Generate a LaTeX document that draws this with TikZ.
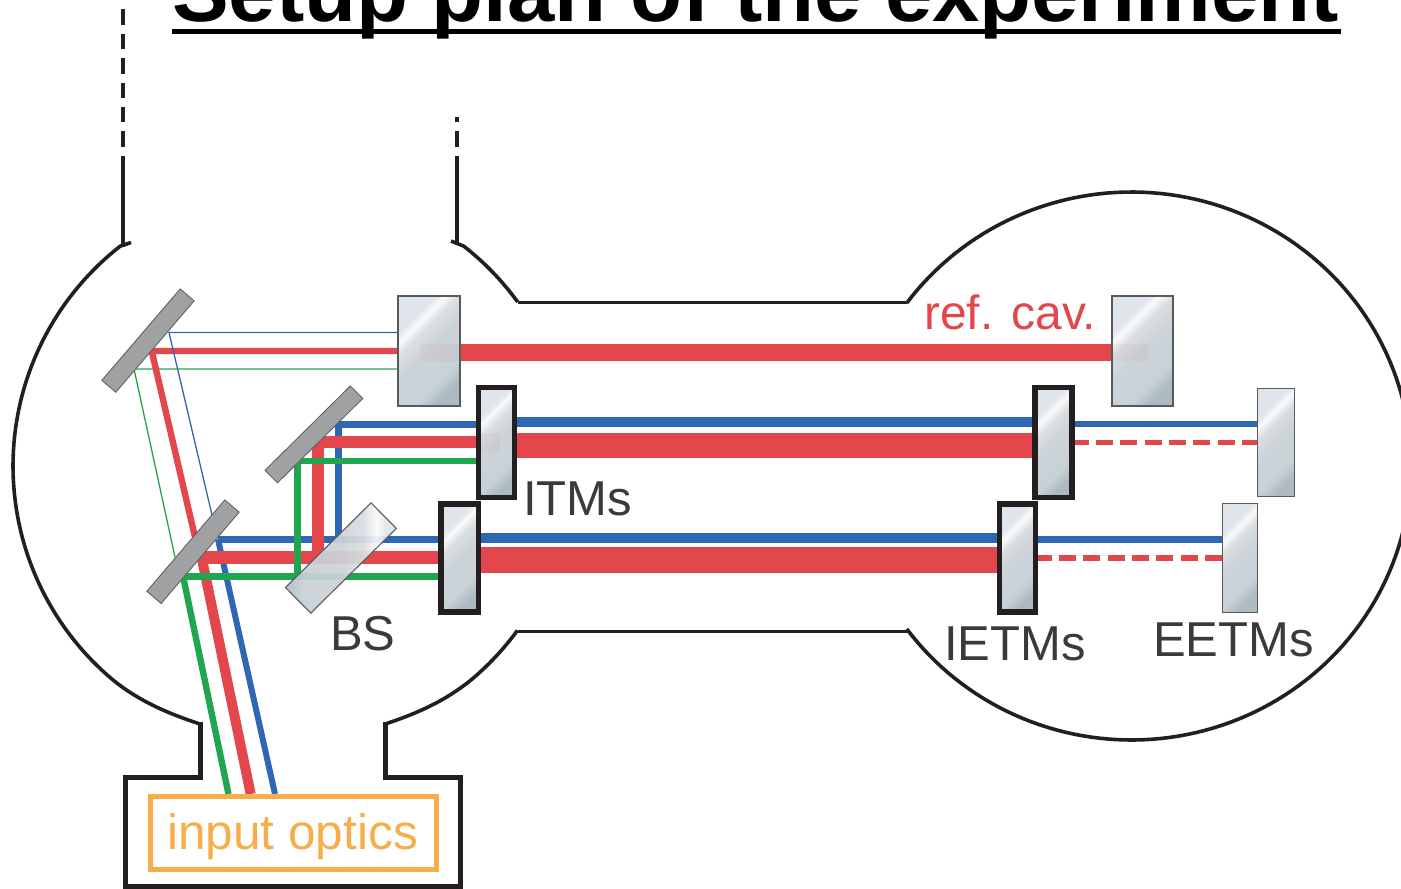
\documentclass[tikz,border=0pt]{standalone}
\usepackage{fontspec}
\setmainfont{Liberation Sans}
\definecolor{cred}{HTML}{E3474B}
\definecolor{cblue}{HTML}{2E67B4}
\definecolor{cgreen}{HTML}{21A650}
\definecolor{cblack}{HTML}{231F20}
\definecolor{corange}{HTML}{F6AE4B}
\definecolor{clabel}{HTML}{3A3A3C}
\definecolor{cmirror}{HTML}{A0A1A3}
\definecolor{cedge}{HTML}{58595B}
\pgfdeclareverticalshading{glass}{100bp}{
 rgb(0bp)=(.68,.73,.76);
 rgb(25bp)=(.68,.73,.76);
 rgb(33bp)=(.78,.82,.84);
 rgb(50bp)=(.80,.83,.85);
 rgb(60bp)=(.85,.87,.88);
 rgb(66bp)=(.98,.98,.98);
 rgb(70bp)=(.88,.90,.92);
 rgb(100bp)=(.88,.90,.92)}
\tikzset{
 glassbox/.style={draw=cedge,line width=1.6pt,shading=glass,shading angle=45,inner sep=0pt,outer sep=0pt},
 itmbox/.style={glassbox,draw=cblack,line width=5.2pt},
 steer/.style={draw=cedge,line width=.8pt,fill=cmirror,inner sep=0pt,outer sep=0pt},
 wall/.style={draw=cblack,line width=3.6pt,line join=round},
 wallthick/.style={draw=cblack,line width=5pt,line join=miter},
 wallfade/.style={draw=cblack,line width=3.8pt,dash pattern=on 15.3pt off 9.1pt},
 redb/.style={draw=cred,line join=miter},
 blueb/.style={draw=cblue,line join=miter},
 greenb/.style={draw=cgreen,line join=miter},
 ghost/.style={draw=none,fill=cred!60!gray,opacity=.07},
 lab/.style={text=clabel,font=\fontsize{49}{50}\selectfont,inner sep=0pt,anchor=base west},
}
\begin{document}
\begin{tikzpicture}[x=1pt,y=-1pt]
\useasboundingbox (0,0) rectangle (1401,889);
% title
\node[inner sep=0pt,anchor=base west,font=\fontsize{85}{90}\selectfont\bfseries] (title) at (172,21) {Setup plan of the experiment};
\coordinate (ulL) at (172,31.5);
\coordinate (ulR) at (1340.5,31.5);
\draw[line width=5pt,black] (ulL) -- (ulR);
% chamber
\draw[wall] (131,242.5) -- plot[domain=232:130,samples=70,variable=\t] ({292+279*cos(\t)},{466+279*sin(\t)}) .. controls (140,702) and (170,714) .. (198.5,723.5);
\draw[wall] (386.7,723.5) .. controls (415,714) and (444,702) .. (471.3,679.7) -- plot[domain=50:36.1,samples=20,variable=\t] ({292+279*cos(\t)},{466+279*sin(\t)});
\draw[wall] plot[domain=-36:-52,samples=20,variable=\t] ({292+279*cos(\t)},{466+279*sin(\t)}) -- (451,241);
\draw[wall] plot[domain=-143.5:143.5,samples=160,variable=\t] ({1131.5+279.6*cos(\t)},{466+274*sin(\t)});
\draw[wall] (518,302.5) -- (906.7,302.5);
\draw[wall] (518,631.5) -- (906.7,631.5);
\draw[wall,line width=3.8pt] (122.7,155.7) -- (122.7,247);
\draw[wall,line width=3.8pt] (457,155.7) -- (457,243);
\draw[wallfade] (122.7,146.7) -- (122.7,9.3);
\draw[wallfade] (457,146.7) -- (457,117);
\draw[wallthick] (200.5,721.5) -- (200.5,777) -- (125.5,777) -- (125.5,886.5) -- (460,886.5) -- (460,777) -- (385,777) -- (385,721.5);
% coordinates of the beams
\coordinate (gA) at (134,369);   \coordinate (gB) at (175,557);
\coordinate (rA) at (151.7,351); \coordinate (rB) at (195,537);
\coordinate (bA) at (169,332.5); \coordinate (bB) at (212,515);
\coordinate (gC) at (183,576);   \coordinate (gD) at (228.5,794);
\coordinate (rC) at (201.7,557.7); \coordinate (rD) at (250.7,794);
\coordinate (bC) at (218,539.3); \coordinate (bD) at (275,794);
% beams
\draw[greenb,line width=1.3pt] (gB) -- (gA) -- (398,369);
\draw[redb,line width=6.4pt] (rB) -- (rA) -- (398,351);
\draw[blueb,line width=1.3pt] (bB) -- (bA) -- (398,332.5);
\draw[greenb,line width=6.4pt] (gC) -- (gD);
\draw[redb,line width=10pt] (rC) -- (rD);
\draw[blueb,line width=6pt] (bC) -- (bD);
\draw[blueb,line width=7pt] (218,539.3) -- (441,539.3);
\draw[redb,line width=12.5pt] (198,557.7) -- (441,557.7);
\draw[greenb,line width=7pt] (180,576) -- (441,576);
\draw[blueb,line width=7pt] (338,539.3) -- (338,424) -- (478,424);
\draw[redb,line width=12.5pt] (318,557.7) -- (318,442) -- (478,442);
\draw[greenb,line width=6.4pt] (297.3,576) -- (297.3,461) -- (478,461);
\draw[redb,line width=17pt] (460,352.7) -- (1112,352.7);
\draw[blueb,line width=10.6pt] (514,422) -- (1035,422);
\draw[redb,line width=25pt] (514,445) -- (1035,445);
\draw[blueb,line width=10.6pt] (478,538) -- (1000,538);
\draw[redb,line width=26.5pt] (478,560) -- (1000,560);
\draw[blueb,line width=6.4pt] (1072,424) -- (1257,424);
\draw[redb,line width=5pt,dash pattern=on 16.9pt off 7.4pt,dash phase=0.2pt] (1072,442) -- (1257,442);
\draw[blueb,line width=7pt] (1036,539.3) -- (1222,539.3);
\draw[redb,line width=6pt,dash pattern=on 16.9pt off 7.4pt,dash phase=1.2pt] (1036,558) -- (1222,558);
% steering mirrors
\node[steer,minimum width=120.4pt,minimum height=18.4pt,rotate=49.4] (mA) at (148,340.6) {};
\node[steer,minimum width=120pt,minimum height=17.7pt,rotate=44.7] (mB) at (313.9,434.4) {};
\node[steer,minimum width=120.2pt,minimum height=18.9pt,rotate=49.5] (mC) at (193,551.7) {};
% beam splitter
\node[glassbox,line width=1.2pt,minimum width=120.4pt,minimum height=36pt,rotate=44.7,shading angle=-90,opacity=.93] (bs) at (340.9,558) {};
% cavity mirrors
\node[glassbox,minimum width=62pt,minimum height=110pt] (refL) at (429,351) {};
\node[glassbox,minimum width=61pt,minimum height=110pt] (refR) at (1142.5,351) {};
\node[itmbox,minimum width=36pt,minimum height=110pt] (itmL) at (496.5,442.5) {};
\node[itmbox,minimum width=37.5pt,minimum height=108pt] (ietmL) at (459.8,558) {};
\node[itmbox,minimum width=37pt,minimum height=110pt] (itmR) at (1053.5,442.5) {};
\node[itmbox,minimum width=36pt,minimum height=108pt] (ietmR) at (1017.5,558) {};
\node[glassbox,minimum width=37pt,minimum height=108pt] (eetmA) at (1276,442.5) {};
\node[glassbox,minimum width=35pt,minimum height=109pt] (eetmB) at (1240,558) {};
% beams seen faintly through the glass
\fill[ghost] (420,344) rectangle (459,361);
\fill[ghost] (1113,344) rectangle (1148,361);
\fill[ghost] (481,433) rectangle (500,451);
% input optics
\node[draw=corange,line width=5pt,minimum width=286pt,minimum height=73pt,inner sep=0pt] (optics) at (293.5,833) {};
\node[text=corange,font=\fontsize{49.6}{50}\selectfont,inner sep=0pt,anchor=base] (opticstext) at (292.5,849) {input optics};
% labels
\node[lab,text=cred,font=\fontsize{48}{50}\selectfont] (refcav) at (924,329) {ref. cav.};
\node[lab] (itms) at (523,515) {ITMs};
\node[lab] (bslabel) at (330,650) {BS};
\node[lab] (ietms) at (944,660) {IETMs};
\node[lab] (eetms) at (1153,656) {EETMs};
\end{tikzpicture}
\end{document}
